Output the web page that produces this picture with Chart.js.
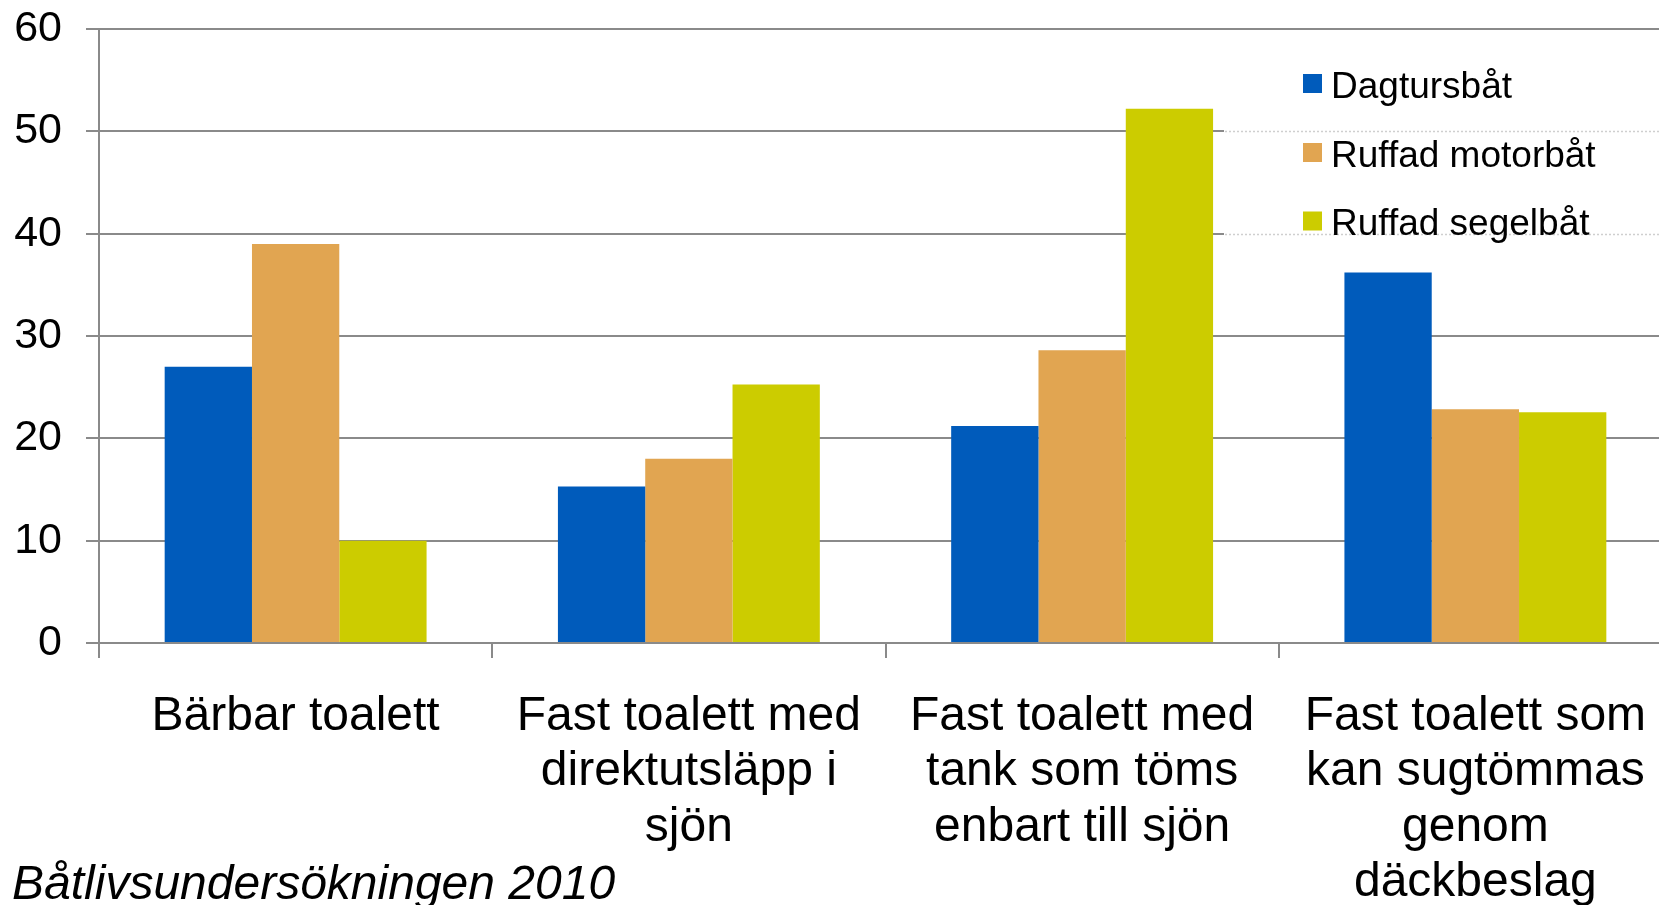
<!DOCTYPE html>
<html>
<head>
<meta charset="utf-8">
<script src="https://cdn.jsdelivr.net/npm/chart.js@4/dist/chart.umd.min.js"></script>
<style>
  html, body { margin: 0; padding: 0; background: #fff; overflow: hidden; width: 1659px; height: 905px; }
  #wrap { position: absolute; left: 0; top: 0; width: 1672px; height: 960px; }
  #note { position: absolute; left: 12px; top: 859px; font: italic 48px "Liberation Sans", Arial, sans-serif; line-height: 48px; color: #000; white-space: nowrap; }
</style>
</head>
<body>
<div id="wrap"><canvas id="c" width="1672" height="960"></canvas></div>
<div id="note">Båtlivsundersökningen 2010</div>
<script>
const categories = [
  ["Bärbar toalett"],
  ["Fast toalett med", "direktutsläpp i", "sjön"],
  ["Fast toalett med", "tank som töms", "enbart till sjön"],
  ["Fast toalett som", "kan sugtömmas", "genom", "däckbeslag"]
];
const seriesNames = ["Dagtursbåt", "Ruffad motorbåt", "Ruffad segelbåt"];
const dagtursbat = [27.0, 15.3, 21.2, 36.2];
const ruffadMotorbat = [39.0, 18.0, 28.6, 22.85];
const ruffadSegelbat = [10.0, 25.25, 52.2, 22.55];
const yTicks = [0, 10, 20, 30, 40, 50, 60];
const colors = ["#005BBB", "#E1A551", "#CCCC00"];

const FONT = '"Liberation Sans", Arial, sans-serif';
const GRID = '#8a8a8a';

const legendPlugin = {
  id: 'customLegend',
  afterDatasetsDraw(chart) {
    const ctx = chart.ctx;
    const y = chart.scales.y;
    ctx.save();
    ctx.fillStyle = '#ffffff';
    ctx.fillRect(1224, 44, 460, 215);
    ctx.strokeStyle = '#cfcfcf';
    ctx.lineWidth = 1.5;
    ctx.setLineDash([2, 2]);
    [50, 40].forEach(v => {
      const py = Math.round(y.getPixelForValue(v)) + 0.5;
      ctx.beginPath();
      ctx.moveTo(1225, py);
      ctx.lineTo(1672, py);
      ctx.stroke();
    });
    ctx.setLineDash([]);
    const rows = [83.5, 152.5, 221];
    ctx.font = '37px ' + FONT;
    ctx.textBaseline = 'middle';
    ctx.textAlign = 'left';
    chart.data.datasets.forEach((ds, i) => {
      ctx.fillStyle = ds.backgroundColor;
      ctx.fillRect(1303, rows[i] - 9.5, 19, 19);
      ctx.fillStyle = '#000';
      ctx.fillText(ds.label, 1331, rows[i] + 4);
    });
    ctx.restore();
  }
};

new Chart(document.getElementById('c'), {
  type: 'bar',
  data: {
    labels: categories,
    datasets: [
      { label: seriesNames[0], data: dagtursbat, backgroundColor: colors[0] },
      { label: seriesNames[1], data: ruffadMotorbat, backgroundColor: colors[1] },
      { label: seriesNames[2], data: ruffadSegelbat, backgroundColor: colors[2] }
    ]
  },
  options: {
    responsive: false,
    devicePixelRatio: 1,
    animation: false,
    layout: { padding: { top: 29, left: 0, right: 0, bottom: 0 } },
    datasets: { bar: { categoryPercentage: 0.666, barPercentage: 1.0, borderWidth: 0 } },
    plugins: {
      legend: { display: false },
      tooltip: { enabled: false }
    },
    scales: {
      x: {
        offset: true,
        grid: { offset: true, drawOnChartArea: false, drawTicks: true, tickLength: 15, color: GRID, lineWidth: 2 },
        border: { color: GRID, width: 2 },
        ticks: { color: '#000', font: { family: FONT, size: 48, lineHeight: 1.156 }, padding: 31, maxRotation: 0, autoSkip: false },
        afterFit: s => { s.height = 960 - 643; s.paddingLeft = 0; s.paddingRight = 0; }
      },
      y: {
        min: 0,
        max: 60,
        afterBuildTicks: s => { s.ticks = yTicks.map(v => ({ value: v })); },
        grid: { color: GRID, lineWidth: 2, tickLength: 13, drawTicks: true },
        border: { color: GRID, width: 2 },
        ticks: { color: '#000', font: { family: FONT, size: 43 }, padding: 24 },
        afterFit: s => { s.width = 99; s.paddingTop = 0; s.paddingBottom = 0; }
      }
    }
  },
  plugins: [legendPlugin]
});
</script>
</body>
</html>
